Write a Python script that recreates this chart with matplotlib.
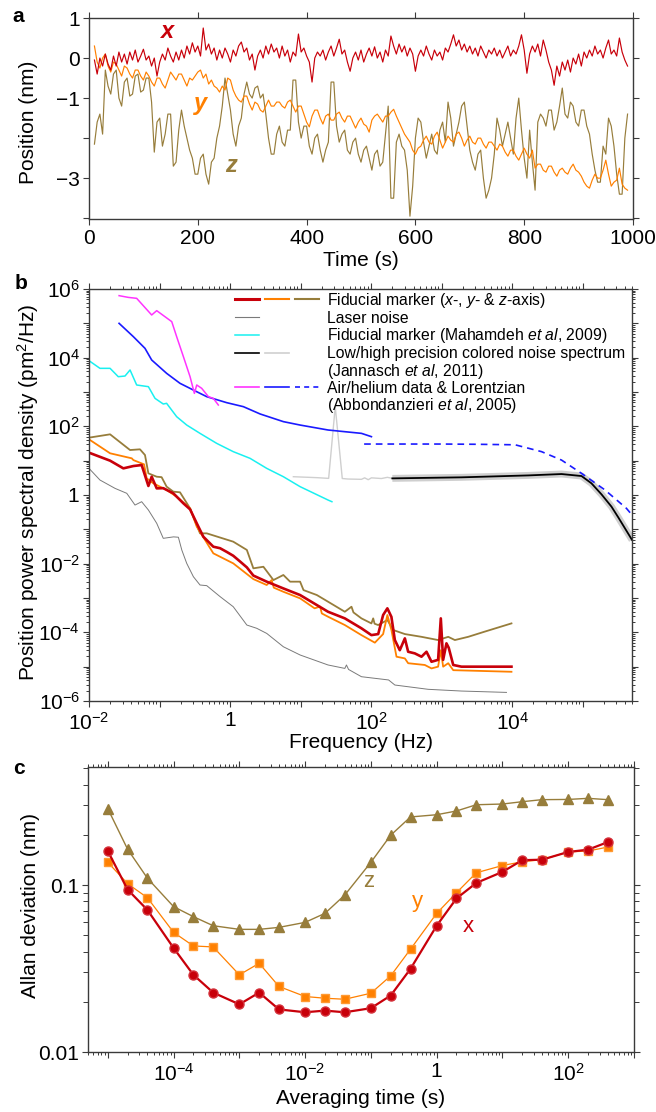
import numpy as np
import matplotlib
matplotlib.use('Agg')
import matplotlib.pyplot as plt
from matplotlib.lines import Line2D
from matplotlib.ticker import FixedLocator, FuncFormatter, LogLocator, NullFormatter

plt.rcParams['font.family'] = ['Liberation Sans', 'DejaVu Sans']
plt.rcParams['mathtext.fontset'] = 'custom'
plt.rcParams['mathtext.rm'] = 'Liberation Sans'
plt.rcParams['mathtext.it'] = 'Liberation Sans:italic'
plt.rcParams['mathtext.bf'] = 'Liberation Sans:bold'
plt.rcParams['axes.unicode_minus'] = True

# ---------------- data: panel a (time traces, nm), sampled every 5 s ----------------
time_s = np.arange(10, 991, 5)
pos_x = [-0.05, -0.4, 0.0, -0.2, 0.1, -0.15, -0.3, 0.05, -0.2, 0.15,
         -0.1, 0.1, -0.15, 0.15, -0.05, 0.2, -0.1, 0.05, 0.22, -0.05,
         0.05, -0.2, 0.0, -0.45, -0.1, 0.1, -0.05, 0.25, 0.05, -0.1,
         0.15, -0.05, 0.2, 0.0, 0.3, 0.1, 0.38, 0.15, 0.3, 0.05,
         0.75, 0.2, 0.35, 0.1, 0.25, -0.05, 0.2, 0.0, 0.25, 0.1,
         -0.1, 0.2, 0.05, 0.3, 0.4, 0.15, 0.25, -0.05, 0.1, -0.3,
         0.05, 0.2, 0.0, 0.3, 0.1, 0.35, 0.15, 0.25, 0.0, 0.3,
         0.05, 0.2, -0.1, 0.15, 0.05, 0.6, 0.15, 0.25, 0.05, -0.1,
         -0.6, 0.0, 0.15, 0.05, 0.2, -0.05, 0.15, 0.3, 0.05, 0.25,
         0.47, 0.1, 0.2, -0.1, -0.33, 0.0, 0.15, -0.05, 0.2, -0.1,
         0.1, 0.25, 0.05, 0.28, 0.0, 0.15, -0.1, 0.2, 0.05, 0.55,
         0.3, 0.1, 0.35, 0.15, 0.3, 0.05, 0.25, 0.1, -0.33, 0.05,
         0.2, 0.05, 0.3, 0.1, -0.05, 0.2, 0.05, 0.15, -0.05, 0.25,
         0.15, 0.35, 0.58, 0.3, 0.45, 0.2, 0.35, 0.15, 0.3, 0.1,
         0.25, 0.05, 0.3, 0.15, 0.0, 0.2, 0.1, 0.25, 0.05, 0.2,
         0.0, 0.15, 0.3, 0.05, 0.2, 0.1, 0.3, 0.58, 0.2, -0.38,
         0.1, 0.3, 0.15, 0.35, 0.05, 0.45, 0.2, -0.1, -0.3, -0.68,
         -0.2, -0.45, -0.1, -0.3, -0.05, -0.35, 0.0, -0.15, 0.1, -0.2,
         0.15, 0.0, 0.2, 0.05, 0.3, 0.1, 0.2, 0.0, 0.25, 0.45,
         0.1, 0.2, 0.05, 0.5, 0.15, -0.05, -0.2]
pos_y = [0.3, -0.1, -0.25, 0.0, 0.1, -0.2, -0.35, -0.1, -0.15, -0.3,
         -0.45, -0.2, -0.25, -0.4, -0.5, -0.3, -0.3, -0.45, -0.55, -0.35,
         -0.45, -0.6, -0.7, -0.5, -0.5, -0.65, -0.75, -0.55, -0.35, -0.45,
         -0.55, -0.4, -0.4, -0.55, -0.7, -0.5, -0.55, -0.45, -0.35, -0.3,
         -0.5, -0.4, -0.65, -0.55, -0.7, -0.75, -0.85, -0.7, -0.8, -0.5,
         -0.55, -0.8, -0.95, -1.05, -1.1, -0.95, -0.95, -1.15, -1.3, -1.1,
         -1.15, -1.3, -1.35, -1.2, -1.05, -1.2, -1.2, -1.1, -1.1, -1.2,
         -1.25, -1.1, -1.05, -1.2, -1.35, -1.2, -1.2, -1.4, -1.6, -1.72,
         -1.45, -1.3, -1.3, -1.5, -1.65, -1.45, -1.4, -1.55, -1.55, -1.4,
         -1.35, -1.5, -1.6, -1.45, -1.45, -1.6, -1.75, -1.6, -1.5, -1.65,
         -1.7, -1.85, -1.55, -1.45, -1.4, -1.5, -1.6, -1.45, -1.45, -1.35,
         -1.28, -1.45, -1.6, -1.75, -1.9, -2.0, -2.1, -2.3, -2.4, -2.25,
         -2.2, -2.05, -1.95, -2.1, -2.15, -1.95, -1.85, -2.05, -2.25, -2.1,
         -1.95, -2.05, -2.1, -1.9, -1.85, -2.0, -2.2, -2.05, -1.95, -2.1,
         -2.15, -2.0, -2.0, -2.15, -2.25, -2.1, -2.1, -2.2, -2.3, -2.15,
         -2.2, -2.35, -2.45, -2.3, -2.3, -2.45, -2.55, -2.4, -2.25, -2.4,
         -2.5, -2.3, -2.75, -2.65, -2.65, -2.8, -2.85, -2.7, -2.7, -2.85,
         -2.95, -2.8, -2.75, -2.85, -2.9, -2.75, -2.65, -2.8, -2.85, -2.95,
         -3.1, -3.2, -3.25, -3.05, -2.9, -3.0, -3.0, -2.8, -2.55, -2.9,
         -3.2, -3.1, -3.05, -2.75, -3.15, -3.25, -3.3]
pos_z = [-2.15, -1.6, -1.4, -1.9, -0.3, -0.7, -0.9, -0.4, -0.3, -1.0,
         -1.2, -0.6, -0.5, -0.95, -0.9, -0.45, -0.4, -0.85, -0.8, -0.5,
         -0.5, -1.1, -2.35, -1.6, -1.5, -2.2, -1.9, -1.4, -1.4, -2.7,
         -2.6, -1.8, -1.3, -1.7, -2.0, -2.3, -2.5, -2.9, -2.9, -2.5,
         -2.4, -2.9, -3.15, -2.6, -2.5, -2.0, -1.7, -1.2, -0.5, -0.9,
         -1.3, -1.9, -2.2, -1.7, -1.5, -0.9, -0.6, -0.9, -1.0, -0.75,
         -0.7, -1.0, -0.9, -1.4, -2.0, -2.4, -2.4, -1.9, -1.7, -2.1,
         -2.2, -1.8, -1.8, -0.55, -0.55, -1.6, -2.0, -1.7, -1.7, -2.2,
         -2.4, -2.0, -1.9, -2.3, -2.6, -2.3, -2.1, -0.6, -0.6, -1.7,
         -2.1, -1.9, -1.8, -2.3, -2.4, -2.1, -2.0, -2.4, -2.6, -2.3,
         -2.2, -2.5, -2.8, -2.4, -2.3, -2.7, -2.6, -1.9, -1.2, -3.5,
         -3.5, -2.1, -1.9, -2.2, -2.3, -2.8, -3.95, -3.2, -2.0, -1.5,
         -1.6, -2.1, -2.5, -2.2, -1.9, -2.3, -2.4, -1.8, -1.6, -2.1,
         -1.1, -1.5, -2.2, -1.9, -1.6, -1.2, -1.1, -1.7, -2.3, -2.6,
         -2.8, -2.4, -2.3, -3.0, -3.5, -3.3, -3.0, -2.4, -1.5, -1.8,
         -2.2, -1.9, -1.6, -2.0, -2.4, -1.5, -1.0, -1.8, -2.5, -3.0,
         -1.8, -2.6, -3.3, -1.6, -1.4, -1.5, -1.7, -1.3, -1.3, -1.8,
         -1.6, -1.2, -0.75, -1.4, -1.5, -1.1, -1.2, -1.6, -1.7, -1.3,
         -1.3, -1.7, -1.9, -2.4, -2.8, -3.1, -3.1, -2.2, -2.4, -1.5,
         -1.7, -2.2, -2.9, -3.4, -3.4, -2.0, -1.4]

# ---------------- data: panel b (PSD, pm^2/Hz vs Hz) ----------------
red_f = [0.01, 0.0199, 0.0307, 0.0426, 0.0558, 0.0695, 0.0774, 0.0912, 0.113, 0.157,
         0.218, 0.271, 0.337, 0.418, 0.579, 0.721, 0.897, 1.11, 1.39, 1.73,
         2.14, 3.31, 5.70, 9.84, 24.5, 42.4, 72.9, 101, 126, 148,
         170, 194, 217, 255, 301, 335, 416, 518, 610, 718,
         891, 973, 1050, 1170, 1260, 1460, 1910, 9770]
red_p = [17.1, 10.0, 5.97, 6.98, 7.46, 1.83, 3.41, 1.56, 1.58, 1.12,
         0.571, 0.382, 0.15, 0.061, 0.0312, 0.0282, 0.022, 0.017, 0.0115, 0.0078,
         0.0045, 0.00299, 0.0019, 0.00122, 3.98e-4, 2.55e-4, 1.31e-4, 8.3e-5, 8.9e-5, 3.19e-4,
         5.0e-4, 2.82e-4, 5.96e-5, 3.02e-5, 6.68e-5, 2.72e-5, 2.44e-5, 1.95e-5, 2.72e-5, 1.39e-5,
         1.58e-5, 2.55e-4, 1.58e-5, 4.79e-5, 3.55e-5, 1.12e-5, 1.0e-5, 1.0e-5]
orange_f = [0.01, 0.0199, 0.0404, 0.0426, 0.0603, 0.0658, 0.0817, 0.126, 0.175, 0.271,
            0.337, 0.579, 1.11, 2.14, 3.31, 3.89, 4.17, 5.70, 9.84, 15.8,
            18.9, 20.0, 24.5, 42.4, 72.9, 113, 148, 170, 194, 229,
            301, 335, 577, 718, 891, 973, 1050, 1240, 1460, 9770]
orange_p = [41.8, 16.4, 11.7, 10.4, 7.82, 3.05, 2.19, 1.40, 0.891, 0.408,
            0.12, 0.02, 0.0102, 0.00355, 0.00239, 0.00333, 0.002, 0.00152, 9.77e-4, 5.0e-4,
            5.62e-4, 3.55e-4, 2.85e-4, 1.63e-4, 8.3e-5, 5.0e-5, 8.9e-5, 3.19e-4, 1.17e-4, 1.95e-5,
            1.74e-5, 1.26e-5, 1.12e-5, 8.9e-6, 1.0e-5, 3.02e-5, 1.0e-5, 1.26e-5, 7.9e-6, 7.1e-6]
gold_f = [0.01, 0.0199, 0.0382, 0.0528, 0.0622, 0.0695, 0.0912, 0.107, 0.126, 0.157,
          0.195, 0.271, 0.375, 0.467, 1.11, 1.73, 2.14, 2.97, 4.12, 5.70,
          7.10, 9.84, 11.0, 17.0, 24.5, 42.4, 52.7, 56.2, 72.9, 101,
          107, 112, 126, 170, 205, 301, 518, 891, 1240, 1540,
          2380, 4090, 9770]
gold_p = [46.8, 58.5, 20.4, 21.4, 14.6, 4.27, 3.41, 3.31, 1.75, 1.25,
          1.20, 0.408, 0.0764, 0.0764, 0.0437, 0.0251, 0.00731, 0.00813, 0.00333, 0.00468,
          0.00299, 0.00299, 0.0017, 0.00122, 7.8e-4, 3.98e-4, 5.57e-4, 3.8e-4, 2.55e-4, 1.82e-4,
          2.55e-4, 1.78e-4, 1.63e-4, 2.29e-4, 1.17e-4, 8.9e-5, 7.4e-5, 5.96e-5, 7.4e-5, 5.96e-5,
          7.4e-5, 1.05e-4, 1.82e-4]
laser_f = [0.01, 0.0143, 0.0234, 0.0343, 0.0449, 0.0558, 0.0695, 0.0912, 0.113, 0.158,
           0.185, 0.207, 0.243, 0.302, 0.375, 0.467, 0.721, 1.11, 1.73, 2.39,
           3.31, 5.70, 9.84, 24.5, 42.4, 44.7, 47.9, 72.9, 177, 217,
           644, 1910, 8300]
laser_p = [5.97, 2.73, 1.56, 1.12, 0.51, 0.638, 0.366, 0.15, 0.0547, 0.0603,
           0.0589, 0.0249, 0.0102, 0.00417, 0.00239, 0.00229, 0.0011, 5.57e-4, 1.63e-4, 1.31e-4,
           9.3e-5, 3.8e-5, 2.19e-5, 1.12e-5, 8.9e-6, 1.12e-5, 8.3e-6, 5.1e-6, 4.1e-6, 2.92e-6,
           2.19e-6, 1.95e-6, 1.78e-6]
mahamdeh_f = [0.01, 0.0143, 0.0199, 0.026, 0.0324, 0.0382, 0.0474, 0.0695, 0.0863, 0.113,
              0.126, 0.175, 0.243, 0.375, 0.647, 1.11, 1.92, 3.31, 5.70, 9.84,
              24.5, 27.8]
mahamdeh_p = [8170, 4890, 4890, 2790, 2920, 4380, 1600, 1430, 653, 447,
              468, 191, 109, 62.4, 31.9, 18.3, 11.7, 5.97, 3.41, 1.75,
              0.714, 0.638]
air_f = [0.0267, 0.036, 0.0474, 0.0774, 0.0912, 0.149, 0.175, 0.218, 0.271, 0.312,
         0.337, 0.396, 0.493, 0.579, 0.682]
air_p = [6.4e5, 5.7e5, 5.35e5, 1.75e5, 2.34e5, 1.12e5, 4.08e4, 1.07e4, 2790, 914,
         1600, 1280, 731, 653, 418]
helium_f = [0.0267, 0.0426, 0.0622, 0.0774, 0.126, 0.195, 0.302, 0.467, 0.897, 1.545,
            2.67, 5.70, 9.84, 24.5, 42.4, 73.0, 101]
helium_p = [1.0e5, 4.08e4, 1.87e4, 8550, 3500, 1790, 1140, 731, 489, 374,
            229, 137, 109, 78.2, 69.8, 62.4, 50.0]
lorentz_f = [79.6, 1000, 3160, 11000, 26100, 50100, 96200, 207000, 417000, 501000]
lorentz_p = [30.5, 30.5, 30.0, 29.0, 18.3, 10.4, 4.27, 1.40, 0.408, 0.261]
jannasch_lo_f = [200, 1910, 16900, 50100, 96200, 133000, 185000, 256000, 319000, 501000]
jannasch_lo_p = [3.05, 3.27, 3.72, 4.08, 3.57, 2.19, 1.04, 0.457, 0.224, 0.049]
jannasch_hi_f = [7.9, 17, 25, 31, 39, 47, 73, 81, 91, 101, 140, 170, 200]
jannasch_hi_p = [3.41, 3.2, 3.05, 374, 3.02, 2.92, 2.86, 3.16, 2.79, 3.16, 3.02, 3.27, 3.05]

# ---------------- data: panel c (Allan deviation, nm) ----------------
tau_s = [1e-5, 2e-5, 4e-5, 1e-4, 2e-4, 4e-4, 1e-3, 2e-3, 4e-3, 1e-2, 2e-2, 4e-2,
         0.1, 0.2, 0.4, 1, 2, 4, 10, 20, 40, 100, 200, 400]
adev_x = [0.160, 0.094, 0.071, 0.042, 0.029, 0.0227, 0.0193, 0.0227, 0.0180, 0.0173, 0.0177, 0.0173,
          0.0183, 0.0218, 0.0315, 0.0571, 0.0832, 0.103, 0.120, 0.141, 0.142, 0.158, 0.163, 0.181]
adev_y = [0.137, 0.102, 0.084, 0.0521, 0.0432, 0.0426, 0.0290, 0.034, 0.0247, 0.0215, 0.021, 0.0207,
          0.0225, 0.0286, 0.0413, 0.0677, 0.090, 0.1185, 0.131, 0.138, 0.142, 0.158, 0.160, 0.169]
adev_z = [0.287, 0.164, 0.110, 0.0743, 0.0647, 0.0571, 0.0543, 0.0543, 0.0558, 0.0598, 0.0677, 0.0871,
          0.137, 0.199, 0.256, 0.264, 0.278, 0.303, 0.306, 0.316, 0.325, 0.326, 0.331, 0.325]

# ---------------- styling ----------------
RED = '#c8000a'
ORANGE = '#ff8000'
GOLD = '#977d3b'
SPINE = '#3a3a3a'
TS = 15

W, H = 656, 1112
fig = plt.figure(figsize=(6.56, 11.12), dpi=100)


def ax_at(l, r, t, b):
    return fig.add_axes([l / W, 1 - b / H, (r - l) / W, (b - t) / H])


def ftext(x, y, s, **kw):
    return fig.text(x / W, 1 - y / H, s, **kw)


def fline(x0, x1, y, **kw):
    fig.add_artist(Line2D([x0 / W, x1 / W], [1 - y / H, 1 - y / H], **kw))


def style(ax):
    for sp in ax.spines.values():
        sp.set_color(SPINE)
        sp.set_linewidth(1.0)
    ax.tick_params(which='both', direction='out', top=True, right=True,
                   colors=SPINE, labelcolor='black', labelsize=TS)
    ax.tick_params(which='major', length=4.5, width=0.8)
    ax.tick_params(which='minor', length=2.3, width=0.7)
    ax.tick_params(axis='x', pad=3)
    ax.tick_params(axis='y', pad=2)


def pow_fmt(v, pos):
    e = int(round(np.log10(v)))
    if e % 2:
        return ''
    if e == 0:
        return '$1$'
    return '$10^{%d}$' % e

# ---------------- panel a ----------------
axa = ax_at(89, 633, 18, 219)
axa.plot(time_s, pos_z, color=GOLD, lw=0.85)
axa.plot(time_s, pos_y, color=ORANGE, lw=0.85)
axa.plot(time_s, pos_x, color=RED, lw=0.85)
axa.set_xlim(0, 1000)
axa.set_ylim(-4.02, 1.0)
axa.set_xticks([0, 200, 400, 600, 800, 1000])
axa.set_yticks([1, 0, -1, -2, -3, -4])
axa.set_yticklabels(['1', '0', '\u22121', '', '\u22123', ''])
style(axa)
ftext(29, 122, 'Position (nm)', rotation=90, ha='center', va='center', fontsize=TS)
ftext(361, 260, 'Time (s)', ha='center', va='center', fontsize=TS)
ftext(18, 17, 'a', ha='center', va='center', fontsize=TS, fontweight='bold')
ftext(167, 38, 'x', ha='center', va='baseline', fontsize=17, color=RED,
      fontweight='bold', fontstyle='italic')
ftext(201, 110, 'y', ha='center', va='baseline', fontsize=17, color=ORANGE,
      fontweight='bold', fontstyle='italic')
ftext(231, 172, 'z', ha='center', va='baseline', fontsize=17, color=GOLD,
      fontweight='bold', fontstyle='italic')

# ---------------- panel b ----------------
axb = ax_at(89, 632, 289, 701)
axb.set_xscale('log')
axb.set_yscale('log')
axb.plot(jannasch_lo_f, jannasch_lo_p, color='#cfcfcf', lw=5, solid_capstyle='butt')
axb.plot(jannasch_hi_f, jannasch_hi_p, color='#cfcfcf', lw=1.0)
axb.plot(jannasch_lo_f, jannasch_lo_p, color='black', lw=1.3)
axb.plot(lorentz_f, lorentz_p, color='#1a1aff', lw=1.2, ls=(0, (4, 3)))
axb.plot(helium_f, helium_p, color='#1a1aff', lw=1.2)
axb.plot(air_f, air_p, color='#ff33ff', lw=1.1)
axb.plot(mahamdeh_f, mahamdeh_p, color='#19f0f0', lw=1.1)
axb.plot(laser_f, laser_p, color='#7a7a7a', lw=0.7)
axb.plot(gold_f, gold_p, color=GOLD, lw=1.3)
axb.plot(orange_f, orange_p, color=ORANGE, lw=1.3)
axb.plot(red_f, red_p, color=RED, lw=1.9)
axb.set_xlim(1e-2, 5.0e5)
axb.set_ylim(1e-6, 1e6)
axb.xaxis.set_major_locator(FixedLocator([10.0 ** k for k in range(-2, 6)]))
axb.xaxis.set_major_formatter(FuncFormatter(pow_fmt))
axb.xaxis.set_minor_locator(LogLocator(base=10, subs=np.arange(2, 10), numticks=30))
axb.xaxis.set_minor_formatter(NullFormatter())
axb.yaxis.set_major_locator(FixedLocator([10.0 ** k for k in range(-6, 7)]))
axb.yaxis.set_major_formatter(FuncFormatter(pow_fmt))
axb.yaxis.set_minor_locator(LogLocator(base=10, subs=np.arange(2, 10), numticks=30))
axb.yaxis.set_minor_formatter(NullFormatter())
style(axb)
ftext(28, 492, 'Position power spectral density (pm$^2$/Hz)', rotation=90,
      ha='center', va='center', fontsize=TS)
ftext(361, 742, 'Frequency (Hz)', ha='center', va='center', fontsize=TS)
ftext(21, 283, 'b', ha='center', va='center', fontsize=TS, fontweight='bold')

# legend (drawn by hand to match layout)
LX = 327
LS = 11.3
rows = [299.3, 317.3, 335.0, 352.7, 370.3, 387.3, 404.3]
fline(235, 259, rows[0], color=RED, lw=2.2)
fline(265, 289, rows[0], color=ORANGE, lw=1.5)
fline(295, 319, rows[0], color=GOLD, lw=1.5)
fline(235, 259, rows[1], color='#7a7a7a', lw=0.8)
fline(235, 259, rows[2], color='#19f0f0', lw=1.1)
fline(235, 259, rows[3], color='black', lw=1.2)
fline(265, 289, rows[3], color='#cfcfcf', lw=1.2)
fline(235, 259, rows[5], color='#ff33ff', lw=1.2)
fline(265, 289, rows[5], color='#1a1aff', lw=1.2)
fline(295, 319, rows[5], color='#1a1aff', lw=1.2, ls=(0, (3, 2.5)))
leg_txt = ['Fiducial marker ($\\mathit{x}$-, $\\mathit{y}$- & $\\mathit{z}$-axis)',
           'Laser noise',
           'Fiducial marker (Mahamdeh $\\mathit{et}$ $\\mathit{al}$, 2009)',
           'Low/high precision colored noise spectrum',
           '(Jannasch $\\mathit{et}$ $\\mathit{al}$, 2011)',
           'Air/helium data & Lorentzian',
           '(Abbondanzieri $\\mathit{et}$ $\\mathit{al}$, 2005)']
for yy, s in zip(rows, leg_txt):
    ftext(LX, yy + 5.3, s, ha='left', va='baseline', fontsize=LS)

# ---------------- panel c ----------------
axc = ax_at(88, 634, 767, 1052)
axc.set_xscale('log')
axc.set_yscale('log')
axc.plot(tau_s, adev_z, color=GOLD, lw=1.0, marker='^', ms=7, mec=GOLD, mfc=GOLD)
axc.plot(tau_s, adev_y, color=ORANGE, lw=0.9, marker='s', ms=5.5, mec='#ff9a33', mfc=ORANGE)
axc.plot(tau_s, adev_x, color=RED, lw=1.6, marker='o', ms=6.5, mec='#d4303a', mfc=RED)
axc.set_xlim(5e-6, 1e3)
axc.set_ylim(0.01, 0.51)
axc.xaxis.set_major_locator(FixedLocator([10.0 ** k for k in range(-5, 4)]))
axc.xaxis.set_major_formatter(FuncFormatter(pow_fmt))
axc.xaxis.set_minor_locator(LogLocator(base=10, subs=np.arange(2, 10), numticks=30))
axc.xaxis.set_minor_formatter(NullFormatter())
axc.yaxis.set_major_locator(FixedLocator([0.01, 0.1]))
axc.yaxis.set_major_formatter(FuncFormatter(lambda v, p: '0.01' if v < 0.05 else '0.1'))
axc.yaxis.set_minor_locator(LogLocator(base=10, subs=np.arange(2, 10), numticks=30))
axc.yaxis.set_minor_formatter(NullFormatter())
style(axc)
axc.tick_params(axis='y', which='minor', length=3.5)
ftext(31, 905, 'Allan deviation (nm)', rotation=90, ha='center', va='center', fontsize=TS)
ftext(361, 1098, 'Averaging time (s)', ha='center', va='center', fontsize=TS)
ftext(19, 768, 'c', ha='center', va='center', fontsize=TS, fontweight='bold')
ftext(369, 887, 'z', ha='center', va='baseline', fontsize=16, color=GOLD)
ftext(417, 907, 'y', ha='center', va='baseline', fontsize=16, color=ORANGE)
ftext(468, 932, 'x', ha='center', va='baseline', fontsize=16, color=RED)

fig.savefig('out.png', dpi=100)
